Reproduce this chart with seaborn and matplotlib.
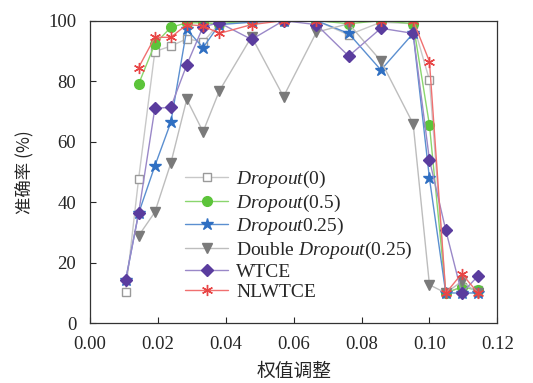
import matplotlib
matplotlib.use("Agg")
import matplotlib.pyplot as plt
import seaborn as sns
import pandas as pd

# x positions (weight adjustment)
x_all = [0.0105, 0.0143, 0.0191, 0.0238, 0.0285, 0.0333, 0.0381, 0.0476, 0.0570,
         0.0667, 0.0762, 0.0857, 0.0952, 0.1000, 0.1048, 0.1095, 0.1143]

acc_d0 = [10.4, 47.6, 89.8, 91.6, 94.0, 93.0, 99.0, 99.5, 100, 100, 95.3, 99.5, 99.0, 80.4, 10.0, 12.0, 11.0]
acc_d05 = [None, 79.0, 92.3, 97.8, 99.3, 99.3, 99.0, 100, 100, 100, 99.0, 100, 99.0, 65.5, 10.0, 12.0, 11.0]
acc_d025 = [14.3, 36.3, 52.0, 66.4, 97.1, 91.1, 98.7, 99.5, 100, 100, 95.8, 83.7, 95.8, 47.9, 10.0, 10.0, 10.0]
acc_double = [None, 28.9, 36.7, 52.9, 74.0, 63.3, 76.8, 94.7, 74.9, 96.2, 99.0, 86.7, 65.9, 12.7, 10.0, 13.8, 10.0]
acc_wtce = [14.3, 36.3, 71.0, 71.4, 85.4, 98.0, 99.3, 93.8, 100, 98.7, 88.3, 97.5, 95.8, 54.0, 30.8, 9.9, 15.6]
acc_nlwtce = [None, 84.5, 94.5, 94.5, 98.7, 98.3, 95.8, 98.7, 100, 100, 100, 100, 100, 86.5, 9.9, 16.4, 10.0]

series = [
    (r"$\it{Dropout}$(0)", acc_d0, "#9a9a9a", "#c8c8c8", "s", "white", 6),
    (r"$\it{Dropout}$(0.5)", acc_d05, "#5cc43a", "#8ad66e", "o", "#5cc43a", 7),
    (r"$\it{Dropout}$0.25)", acc_d025, "#2f6fc2", "#5b8fd0", "*", "#2f6fc2", 9),
    (r"Double $\it{Dropout}$(0.25)", acc_double, "#7a7a7a", "#bdbdbd", "v", "#7a7a7a", 7),
    ("WTCE", acc_wtce, "#5a3c9e", "#9a88c8", "D", "#5a3c9e", 6),
    ("NLWTCE", acc_nlwtce, "#e84545", "#f07070", (6, 2, 0), "#e84545", 8),
]

sns.set_style("ticks")
plt.rcParams["font.family"] = ["Liberation Serif", "Noto Sans CJK SC"]
plt.rcParams["mathtext.fontset"] = "custom"
plt.rcParams["mathtext.it"] = "Liberation Serif:italic"
plt.rcParams["mathtext.rm"] = "Liberation Serif"

fig = plt.figure(figsize=(5.33, 3.83), dpi=100)
ax = fig.add_axes([0.1689, 0.156, 0.7642, 0.790])

for label, vals, mcol, lcol, mk, face, ms in series:
    df = pd.DataFrame({"x": x_all, "y": vals}).dropna()
    sns.lineplot(data=df, x="x", y="y", ax=ax, color=lcol, linewidth=1.0,
                 marker=mk, markersize=ms, markerfacecolor=face,
                 markeredgecolor=mcol, markeredgewidth=1.0, label=label)

ax.set_xlim(0, 0.12)
ax.set_ylim(0, 100)
ax.set_xticks([0.00, 0.02, 0.04, 0.06, 0.08, 0.10, 0.12])
ax.set_xticklabels(["0.00", "0.02", "0.04", "0.06", "0.08", "0.10", "0.12"])
ax.set_yticks([0, 20, 40, 60, 80, 100])
ax.tick_params(direction="in", labelsize=13.5, length=4, width=0.8, top=False, right=False)
ax.tick_params(axis="x", pad=9)
ax.tick_params(axis="y", pad=10)
for s in ax.spines.values():
    s.set_linewidth(0.9)
    s.set_color("#333333")

ax.set_xlabel("权值调整", family=["Noto Sans CJK SC"], fontsize=13.5, labelpad=6)
ax.set_ylabel("准确率 (%)", family=["Noto Sans CJK SC"], fontsize=12.5, labelpad=10)

ax.legend(loc="upper left", bbox_to_anchor=(0.215, 0.535), frameon=False,
          fontsize=14, handlelength=2.2, labelspacing=0.12, handletextpad=0.4,
          borderaxespad=0)

fig.savefig("out.png", dpi=100)
